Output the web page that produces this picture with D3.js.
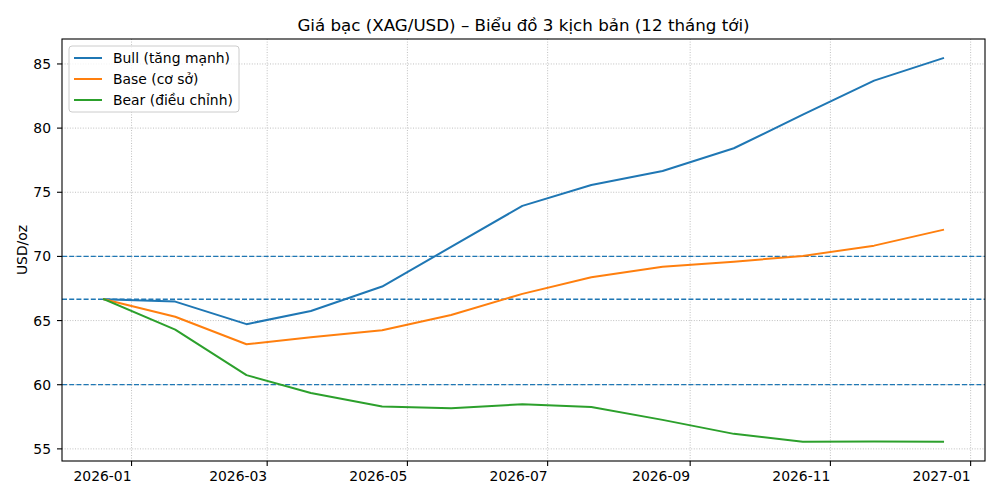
<!DOCTYPE html>
<html>
<head>
<meta charset="utf-8">
<script src="https://cdn.jsdelivr.net/npm/d3@7"></script>
<style>
  body { margin: 0; background: #fff; }
  svg { font-family: "DejaVu Sans", sans-serif; }
</style>
</head>
<body>
<svg id="chart" width="1000" height="500"></svg>
<script>
// monthly scenario points (first point = current price)
const dates = ["2025-12-20", "2026-01-20", "2026-02-20", "2026-03-20", "2026-04-20", "2026-05-20",
  "2026-06-20", "2026-07-20", "2026-08-20", "2026-09-20", "2026-10-20", "2026-11-20", "2026-12-20"];
const bull = [66.66, 66.48, 64.72, 65.75, 67.65, 70.74, 73.94, 75.57, 76.66, 78.43, 81.05, 83.7, 85.45];
const base = [66.66, 65.3, 63.15, 63.7, 64.25, 65.44, 67.08, 68.38, 69.2, 69.59, 70.04, 70.84, 72.07];
const bear = [66.66, 64.3, 60.75, 59.35, 58.3, 58.17, 58.48, 58.27, 57.26, 56.17, 55.55, 55.57, 55.55];
const refLines = [70, 66.66, 60];
const seriesNames = ["Bull (tăng mạnh)", "Base (cơ sở)", "Bear (điều chỉnh)"];
const colors = ["#1f77b4", "#ff7f0e", "#2ca02c"];
const yTicks = [55, 60, 65, 70, 75, 80, 85];
const xTicks = ["2026-01-01", "2026-03-01", "2026-05-01", "2026-07-01", "2026-09-01", "2026-11-01", "2027-01-01"];

const svg = d3.select("#chart");
const mLeft = 62, mRight = 985, mTop = 39, mBottom = 461;

const parse = d3.utcParse("%Y-%m-%d");
const xDates = dates.map(parse);

// matplotlib-like 5% margins
const t0 = xDates[0].getTime(), t1 = xDates[xDates.length - 1].getTime();
const tPad = (t1 - t0) * 0.05;
const x = d3.scaleUtc().domain([new Date(t0 - tPad), new Date(t1 + tPad)]).range([mLeft, mRight]);

const allVals = bull.concat(base, bear);
const yMin = d3.min(allVals), yMax = d3.max(allVals);
const yPad = (yMax - yMin) * 0.05;
const y = d3.scaleLinear().domain([yMin - yPad, yMax + yPad]).range([mBottom, mTop]);

// grid
const grid = svg.append("g");
grid.selectAll(".gx").data(xTicks.map(parse)).enter().append("line")
  .attr("x1", d => x(d)).attr("x2", d => x(d))
  .attr("y1", mTop).attr("y2", mBottom)
  .attr("stroke", "#b0b0b0").attr("stroke-width", 0.8).attr("stroke-dasharray", "1,1.6");
grid.selectAll(".gy").data(yTicks).enter().append("line")
  .attr("x1", mLeft).attr("x2", mRight)
  .attr("y1", d => y(d)).attr("y2", d => y(d))
  .attr("stroke", "#b0b0b0").attr("stroke-width", 0.8).attr("stroke-dasharray", "1,1.6");

// reference lines
svg.selectAll(".ref").data(refLines).enter().append("line")
  .attr("x1", mLeft).attr("x2", mRight)
  .attr("y1", d => y(d)).attr("y2", d => y(d))
  .attr("stroke", "#1f77b4").attr("stroke-width", 1.3).attr("stroke-dasharray", "5,2.2");

// series
const line = d3.line().x((d, i) => x(xDates[i])).y(d => y(d));
[bull, base, bear].forEach((s, i) => {
  svg.append("path").datum(s)
    .attr("d", line)
    .attr("fill", "none")
    .attr("stroke", colors[i])
    .attr("stroke-width", 2)
    .attr("stroke-linejoin", "round")
    .attr("stroke-linecap", "square");
});

// frame
svg.append("rect")
  .attr("x", mLeft).attr("y", mTop)
  .attr("width", mRight - mLeft).attr("height", mBottom - mTop)
  .attr("fill", "none").attr("stroke", "#000").attr("stroke-width", 1.1);

// x axis
const xAxis = svg.append("g");
xTicks.map(parse).forEach(d => {
  xAxis.append("line").attr("x1", x(d)).attr("x2", x(d))
    .attr("y1", mBottom).attr("y2", mBottom + 5).attr("stroke", "#000").attr("stroke-width", 1.1);
  xAxis.append("text").attr("x", x(d)).attr("y", mBottom + 20)
    .attr("text-anchor", "end").attr("font-size", 13.9)
    .text(d3.utcFormat("%Y-%m")(d));
});

// y axis
const yAxis = svg.append("g");
yTicks.forEach(v => {
  yAxis.append("line").attr("x1", mLeft - 5).attr("x2", mLeft)
    .attr("y1", y(v)).attr("y2", y(v)).attr("stroke", "#000").attr("stroke-width", 1.1);
  yAxis.append("text").attr("x", mLeft - 11).attr("y", y(v))
    .attr("dy", "0.36em").attr("text-anchor", "end").attr("font-size", 13.9)
    .text(v);
});

svg.append("text")
  .attr("transform", `translate(27,${(mTop + mBottom) / 2}) rotate(-90)`)
  .attr("text-anchor", "middle").attr("font-size", 13.9)
  .text("USD/oz");

svg.append("text")
  .attr("x", (mLeft + mRight) / 2).attr("y", 31)
  .attr("text-anchor", "middle").attr("font-size", 16.7)
  .text("Giá bạc (XAG/USD) – Biểu đồ 3 kịch bản (12 tháng tới)");

// legend
const legend = svg.append("g").attr("transform", "translate(69,46)");
legend.append("rect")
  .attr("width", 170).attr("height", 66).attr("rx", 3)
  .attr("fill", "#fff").attr("fill-opacity", 0.8)
  .attr("stroke", "#cccccc").attr("stroke-width", 1);
seriesNames.forEach((name, i) => {
  const ly = 12 + i * 21;
  legend.append("line").attr("x1", 5).attr("x2", 33)
    .attr("y1", ly).attr("y2", ly)
    .attr("stroke", colors[i]).attr("stroke-width", 2);
  legend.append("text").attr("x", 44).attr("y", ly).attr("dy", "0.36em")
    .attr("font-size", 13.9).text(name);
});
</script>
</body>
</html>
